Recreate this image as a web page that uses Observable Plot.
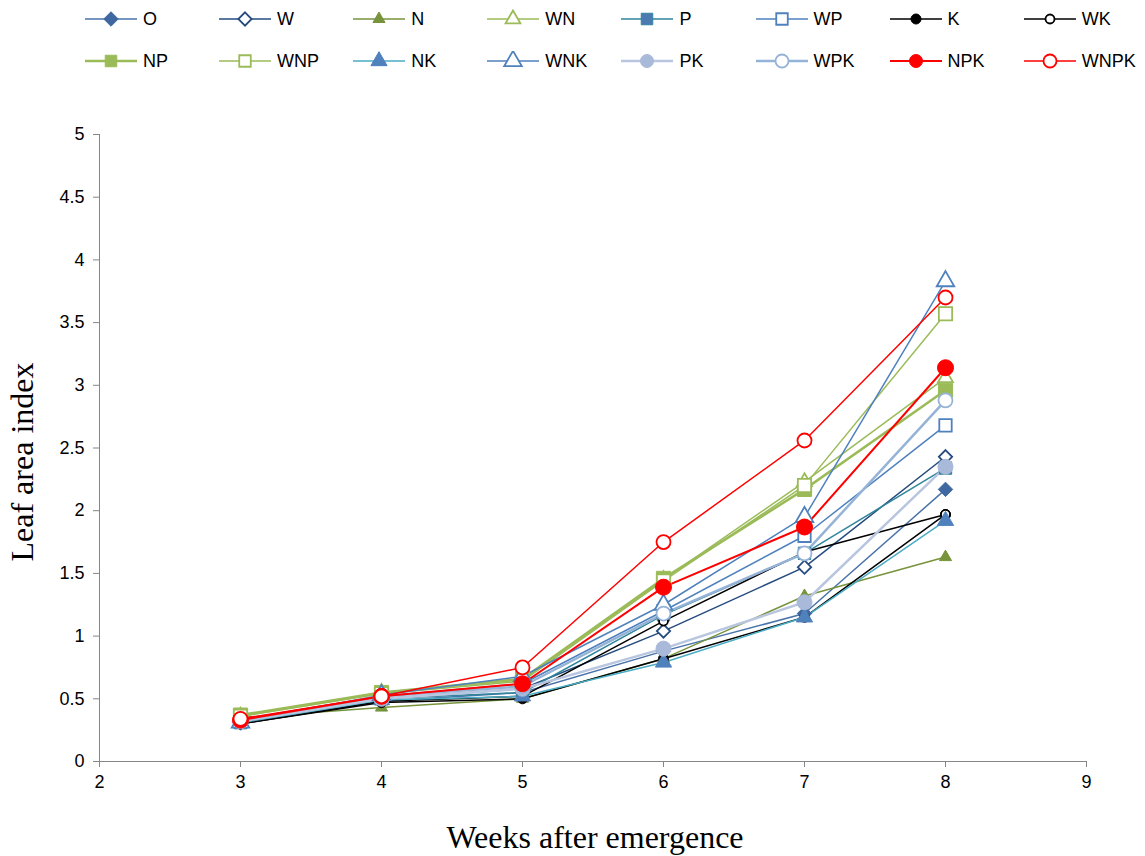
<!DOCTYPE html>
<html><head><meta charset="utf-8">
<script src="https://cdn.jsdelivr.net/npm/d3@7"></script>
<script src="https://cdn.jsdelivr.net/npm/@observablehq/plot@0.6"></script>
<style>
body{margin:0;background:#fff;font-family:"Liberation Sans",Arial,sans-serif;}
#legend{position:relative;width:1145px;height:85px;}
.item{position:absolute;display:flex;align-items:center;font-size:18px;color:#000;height:20px;}
.item svg{display:block;margin-right:6px;}
</style></head>
<body>
<div id="legend"></div>
<div id="chart"></div>
<script>
const weeks = [3, 4, 5, 6, 7, 8];
const seriesNames = ["O","W","N","WN","P","WP","K","WK","NP","WNP","NK","WNK","PK","WPK","NPK","WNPK"];
const O    = [0.31, 0.48, 0.55, 0.88, 1.18, 2.17];
const W    = [0.31, 0.50, 0.58, 1.04, 1.55, 2.43];
const N    = [0.35, 0.43, 0.50, 0.82, 1.32, 1.63];
const WN   = [0.36, 0.55, 0.65, 1.45, 2.23, 3.06];
const P    = [0.31, 0.50, 0.55, 1.17, 1.66, 2.34];
const WP   = [0.32, 0.52, 0.62, 1.20, 1.80, 2.68];
const K    = [0.30, 0.47, 0.50, 0.82, 1.15, 1.97];
const WK   = [0.30, 0.48, 0.52, 1.12, 1.67, 1.97];
const NP   = [0.37, 0.55, 0.66, 1.46, 2.17, 2.96];
const WNP  = [0.36, 0.54, 0.64, 1.44, 2.20, 3.57];
const NK   = [0.31, 0.49, 0.52, 0.79, 1.15, 1.92];
const WNK  = [0.31, 0.53, 0.68, 1.25, 1.95, 3.83];
const PK   = [0.32, 0.50, 0.58, 0.90, 1.27, 2.35];
const WPK  = [0.33, 0.52, 0.60, 1.18, 1.66, 2.88];
const NPK  = [0.33, 0.52, 0.62, 1.39, 1.87, 3.14];
const WNPK = [0.34, 0.52, 0.75, 1.75, 2.56, 3.70];
const values = {O,W,N,WN,P,WP,K,WK,NP,WNP,NK,WNK,PK,WPK,NPK,WNPK};
const xTicks = [2,3,4,5,6,7,8,9];
const yTicks = [0,0.5,1,1.5,2,2.5,3,3.5,4,4.5,5];

// style: line colour, marker symbol, marker fill, marker stroke, r, line width
const style = {
  O:    {line:"#4A73AA", sym:"diamond2", fill:"#3F68A0", stroke:"#3F68A0", r:6.5, w:1.5},
  W:    {line:"#254B7E", sym:"diamond2", fill:"#fff", stroke:"#254B7E", r:6, w:1.5},
  N:    {line:"#77933C", sym:"triangle", fill:"#77933C", stroke:"#77933C", r:4.5, w:1.5},
  WN:   {line:"#9BBB59", sym:"triangle", fill:"#fff", stroke:"#9BBB59", r:5.5, w:1.5},
  P:    {line:"#31859C", sym:"square", fill:"#4A7AB0", stroke:"#31859C", r:7, w:1.5},
  WP:   {line:"#4F81BD", sym:"square", fill:"#fff", stroke:"#4F81BD", r:7, w:1.5},
  K:    {line:"#000000", sym:"circle", fill:"#000", stroke:"#000", r:5, w:1.5},
  WK:   {line:"#000000", sym:"circle", fill:"#fff", stroke:"#000", r:4.5, w:1.5},
  NP:   {line:"#9BBB59", sym:"square", fill:"#9BBB59", stroke:"#9BBB59", r:8, w:2.5},
  WNP:  {line:"#9BBB59", sym:"square", fill:"#fff", stroke:"#9BBB59", r:7.5, w:1.5},
  NK:   {line:"#4BACC6", sym:"triangle", fill:"#4F81BD", stroke:"#4F81BD", r:6, w:1.5},
  WNK:  {line:"#4F81BD", sym:"triangle", fill:"#fff", stroke:"#4F81BD", r:6.5, w:1.5},
  PK:   {line:"#B9C6E0", sym:"circle", fill:"#A9B9DA", stroke:"#A9B9DA", r:7.5, w:2.5},
  WPK:  {line:"#95B3D7", sym:"circle", fill:"#fff", stroke:"#95B3D7", r:7, w:2.5},
  NPK:  {line:"#FF0000", sym:"circle", fill:"#FF0000", stroke:"#FF0000", r:8, w:2},
  WNPK: {line:"#FF0000", sym:"circle", fill:"#fff", stroke:"#FF0000", r:7, w:1.5}
};

const marks = [];
marks.push(Plot.ruleY([0], {stroke:"#868686", strokeWidth:1}));
marks.push(Plot.ruleX([2], {stroke:"#868686", strokeWidth:1}));
marks.push(Plot.axisX({ticks:xTicks, tickSize:6, stroke:"#868686", tickFormat:d=>d, fontSize:18, fill:"#000", tickPadding:8, label:null}));
marks.push(Plot.axisY({ticks:yTicks, tickSize:6, stroke:"#868686", tickFormat:d=>d, fontSize:18, fill:"#000", tickPadding:9, label:null}));
for (const name of seriesNames) {
  const s = style[name];
  const data = weeks.map((w,i)=>({week:w, lai:values[name][i]}));
  marks.push(Plot.line(data, {x:"week", y:"lai", stroke:s.line, strokeWidth:s.w}));
}
for (const name of seriesNames) {
  const s = style[name];
  const data = weeks.map((w,i)=>({week:w, lai:values[name][i]}));
  marks.push(Plot.dot(data, {x:"week", y:"lai", symbol:s.sym, r:s.r, fill:s.fill, stroke:s.stroke, strokeWidth:s.fill==="#fff"?1.8:1}));
}

const chart = Plot.plot({
  width:1145, height:771,
  marginLeft:99, marginRight:59, marginTop:49, marginBottom:95,
  x:{domain:[2,9]},
  y:{domain:[0,5]},
  style:{fontFamily:"'Liberation Sans', Arial, sans-serif", background:"#fff", overflow:"visible"},
  marks
});
document.getElementById("chart").appendChild(chart);

const svg = d3.select(chart);
svg.append("text").attr("x", 595).attr("y", 763).attr("text-anchor","middle")
  .attr("font-family","'Liberation Serif','Times New Roman',serif").attr("font-size",32).attr("fill","#000")
  .text("Weeks after emergence");
svg.append("text").attr("transform","translate(33,377) rotate(-90)").attr("text-anchor","middle")
  .attr("font-family","'Liberation Serif','Times New Roman',serif").attr("font-size",32).attr("fill","#000")
  .text("Leaf area index");

// legend
const symMap = {diamond2:d3.symbolDiamond2, triangle:d3.symbolTriangle, square:d3.symbolSquare, circle:d3.symbolCircle};
const legend = d3.select("#legend");
seriesNames.forEach((name,i)=>{
  const s = style[name];
  const col = i % 8, row = Math.floor(i/8);
  const item = legend.append("div").attr("class","item")
    .style("left",(85+134.1*col)+"px").style("top",(row===0?9:51)+"px");
  const sv = item.append("svg").attr("width",52).attr("height",20);
  sv.append("line").attr("x1",0).attr("x2",52).attr("y1",10).attr("y2",10).attr("stroke",s.line).attr("stroke-width",s.w);
  const rr = Math.min(s.r, 6.5);
  sv.append("path").attr("transform","translate(26,10)")
    .attr("d", d3.symbol(symMap[s.sym], Math.PI*rr*rr)())
    .attr("fill",s.fill).attr("stroke",s.stroke).attr("stroke-width",s.fill==="#fff"?1.8:1);
  item.append("span").text(name);
});
</script>
</body></html>
